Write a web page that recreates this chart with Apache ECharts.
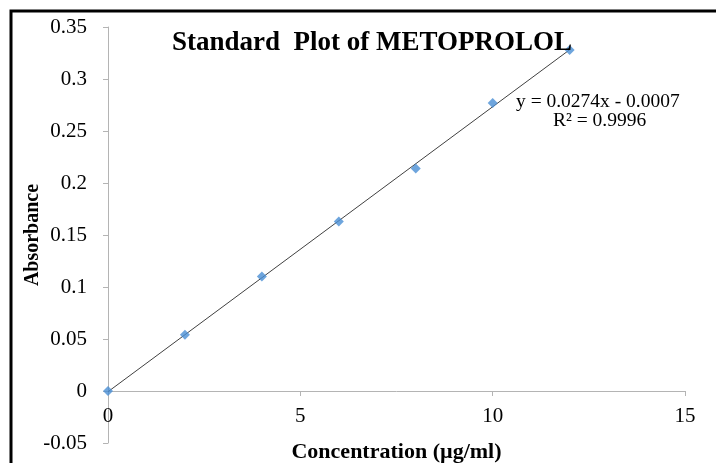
<!DOCTYPE html>
<html>
<head>
<meta charset="utf-8">
<script src="https://cdn.jsdelivr.net/npm/echarts@6/dist/echarts.min.js"></script>
<style>
  html, body { margin: 0; padding: 0; background: #fff; }
  #chart { width: 716px; height: 463px; }
</style>
</head>
<body>
<div id="chart"></div>
<script>
// concentration (ug/ml) and absorbance
const concentration = [0, 2, 4, 6, 8, 10, 12];
const absorbance = [0, 0.054, 0.110, 0.163, 0.214, 0.277, 0.328];
// trendline as printed on the chart
const slope = 0.0274;
const intercept = -0.0007;
const trendX = [0, 12];

const serif = "'Liberation Serif', 'Times New Roman', serif";

const chart = echarts.init(document.getElementById("chart"));

const points = concentration.map((c, i) => [c, absorbance[i]]);
const trend = trendX.map(x => [x, slope * x + intercept]);

// grid is 416px tall for 0.4 units, so y=0 sits 52px above the bottom
const zeroOffset = -52;

chart.setOption({
  animation: false,
  title: {
    text: "Standard  Plot of METOPROLOL",
    left: 367,
    top: 25,
    textAlign: "center",
    textStyle: {
      fontFamily: serif,
      fontWeight: "bold",
      fontSize: 27,
      color: "#000"
    }
  },
  grid: {
    left: 108,
    right: 31,
    top: 27,
    bottom: 20,
    containLabel: false,
    outerBoundsMode: "none"
  },
  xAxis: {
    type: "value",
    min: 0,
    max: 15,
    interval: 5,
    offset: zeroOffset,
    name: "Concentration (µg/ml)",
    nameLocation: "middle",
    nameGap: 50,
    nameMoveOverlap: false,
    nameTextStyle: {
      fontFamily: serif,
      fontWeight: "bold",
      fontSize: 22,
      color: "#000"
    },
    splitLine: { show: false },
    axisLine: { onZero: false, lineStyle: { color: "#b4b4b4", width: 1 } },
    axisTick: { show: true, length: 5, lineStyle: { color: "#b4b4b4" } },
    axisLabel: {
      margin: 15,
      fontFamily: serif,
      fontSize: 21,
      color: "#000"
    }
  },
  yAxis: {
    type: "value",
    min: -0.05,
    max: 0.35,
    interval: 0.05,
    name: "Absorbance",
    nameLocation: "middle",
    nameRotate: 90,
    nameGap: 65,
    nameMoveOverlap: false,
    nameTextStyle: {
      fontFamily: serif,
      fontWeight: "bold",
      fontSize: 20,
      color: "#000"
    },
    splitLine: { show: false },
    axisLine: { show: true, lineStyle: { color: "#b4b4b4", width: 1 } },
    axisTick: { show: true, length: 5, lineStyle: { color: "#b4b4b4" } },
    axisLabel: {
      margin: 21,
      fontFamily: serif,
      fontSize: 21,
      color: "#000",
      formatter: v => String(+v.toFixed(2))
    }
  },
  graphic: [
    {
      type: "rect",
      shape: { x: 11, y: 11, width: 900, height: 700 },
      style: { fill: "none", stroke: "#000", lineWidth: 3 },
      silent: true
    },
    {
      type: "text",
      left: 516,
      top: 92,
      style: {
        text: "y = 0.0274x - 0.0007",
        font: "19.5px " + serif,
        fill: "#000"
      }
    },
    {
      type: "text",
      left: 553,
      top: 111,
      style: {
        text: "R² = 0.9996",
        font: "19.5px " + serif,
        fill: "#000"
      }
    }
  ],
  series: [
    {
      name: "Trendline",
      type: "line",
      data: trend,
      symbol: "none",
      lineStyle: { color: "#404040", width: 1 },
      z: 2
    },
    {
      name: "Absorbance",
      type: "scatter",
      data: points,
      symbol: "diamond",
      symbolSize: [10, 10],
      itemStyle: { color: "#4a8fd4" },
      z: 3
    }
  ]
});
</script>
</body>
</html>
